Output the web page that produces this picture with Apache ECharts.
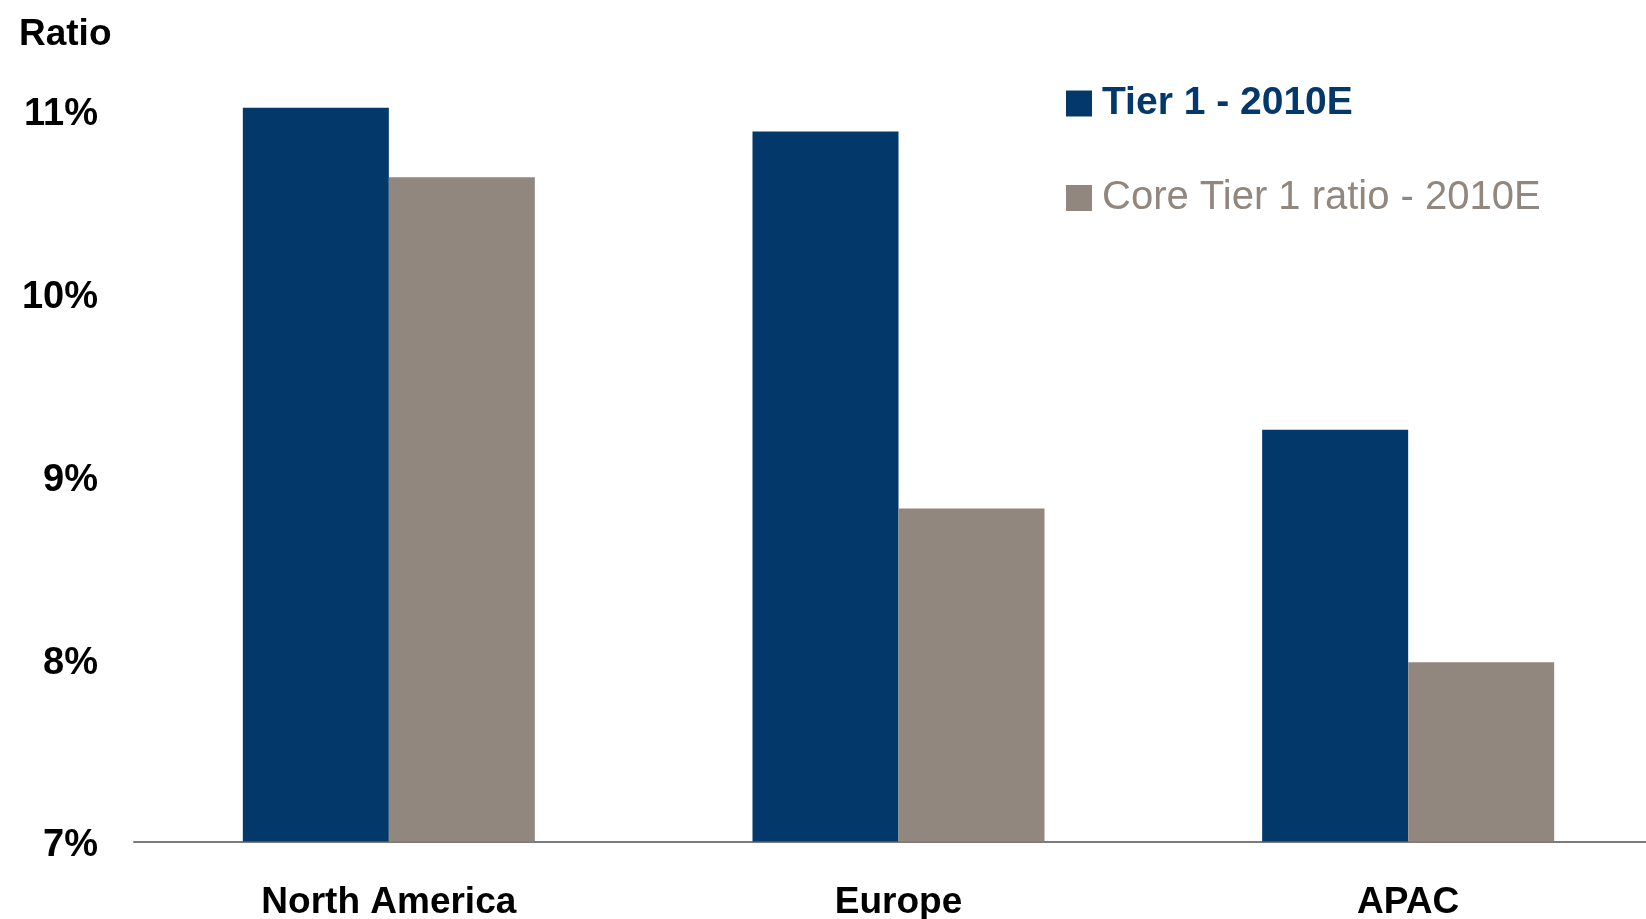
<!DOCTYPE html>
<html>
<head>
<meta charset="utf-8">
<title>Tier 1 ratios by region</title>
<script src="https://cdn.jsdelivr.net/npm/echarts@6/dist/echarts.min.js"></script>
<style>
  html, body { margin: 0; padding: 0; background: #ffffff; }
  #chart { width: 1646px; height: 919px; }
</style>
</head>
<body>
<div id="chart"></div>
<script>
// Regions on the category axis
const regions = ['North America', 'Europe', 'APAC'];

// Capital ratios in percent
const tier1 = [11.01, 10.88, 9.25];
const coreTier1 = [10.63, 8.82, 7.98];

// Series names shown in the legend
const seriesNames = ['Tier 1 - 2010E', 'Core Tier 1 ratio - 2010E'];

// Value axis range
const yMin = 7;
const yMax = 11.2;
const yStep = 1;

const navy = '#03386a';
const taupe = '#91877e';
const fontFamily = '"Liberation Sans", Arial, Helvetica, sans-serif';

const chart = echarts.init(document.getElementById('chart'), null, { renderer: 'canvas' });

chart.setOption({
  backgroundColor: '#ffffff',
  animation: false,
  title: {
    text: 'Ratio',
    left: 14,
    top: 11,
    textStyle: { fontFamily, fontSize: 37, fontWeight: 'bold', color: '#000000' }
  },
  legend: {
    orient: 'vertical',
    left: 1061,
    top: 79,
    itemWidth: 26,
    itemHeight: 26,
    itemGap: 55,
    icon: 'rect',
    textStyle: { fontFamily, fontSize: 39, padding: [0, 0, 0, 5] },
    data: [
      { name: seriesNames[0], textStyle: { color: navy, fontWeight: 'bold', fontSize: 39 } },
      { name: seriesNames[1], textStyle: { color: taupe, fontWeight: 'normal', fontSize: 40 } }
    ]
  },
  grid: {
    left: 134,
    right: -17,
    top: 73,
    bottom: 77.5,
    containLabel: false,
    outerBoundsMode: 'none'
  },
  xAxis: {
    type: 'category',
    data: regions,
    axisLine: { show: true, lineStyle: { color: '#7a7a7a', width: 2 } },
    axisTick: { show: false },
    axisLabel: {
      margin: 43,
      fontFamily,
      fontSize: 37,
      fontWeight: 'bold',
      color: '#000000'
    },
    splitLine: { show: false }
  },
  yAxis: {
    type: 'value',
    min: yMin,
    max: yMax,
    interval: yStep,
    axisLine: { show: false },
    axisTick: { show: false },
    splitLine: { show: false },
    axisLabel: {
      margin: 36,
      formatter: function (v) {
        return Number.isInteger(v) ? '{p|' + v + '%}' : '';
      },
      rich: {
        p: {
          fontFamily,
          fontSize: 38,
          fontWeight: 'bold',
          color: '#000000',
          padding: [9, 0, 0, 0]
        }
      }
    }
  },
  series: [
    {
      name: seriesNames[0],
      type: 'bar',
      data: tier1,
      barWidth: 146,
      barGap: '0%',
      itemStyle: { color: navy }
    },
    {
      name: seriesNames[1],
      type: 'bar',
      data: coreTier1,
      barWidth: 146,
      barGap: '0%',
      itemStyle: { color: taupe }
    }
  ]
});
</script>
</body>
</html>
